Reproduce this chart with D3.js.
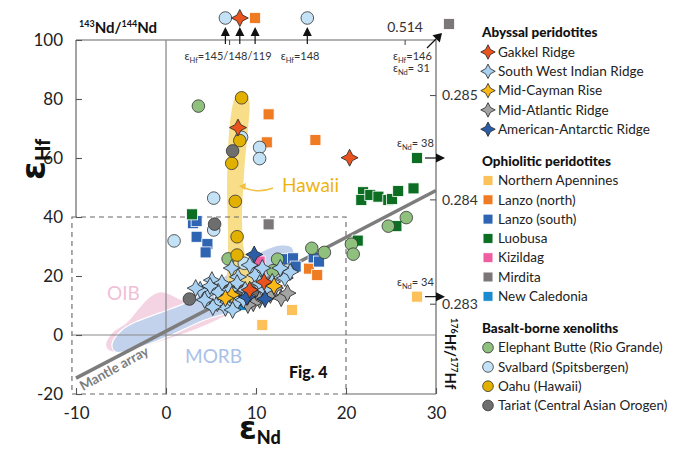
<!DOCTYPE html>
<html><head><meta charset="utf-8">
<script src="https://cdn.jsdelivr.net/npm/d3@7"></script>
<style>body{margin:0;background:#fff;} svg{font-family:Lato,'Open Sans',sans-serif;}</style>
</head><body><svg id="c" width="686" height="449"></svg>
<script>
// ---------- data (εNd, εHf) ----------
const gakkel = [[8.0,70.3],[20.4,60.1],[10.9,18.0],[9.3,15.3]];
const swir = [[7.3,22.7],[8.0,19.7],[9.9,20.3],[5.1,18.6],[6.2,17.6],[7.9,17.6],[10.4,17.6],[13.2,19.3],[13.8,21.4],[4.6,14.2],[5.7,10.8],[6.9,11.2],[7.9,11.2],[6.6,9.2],[5.2,9.5],[3.8,15.3],[8.8,15.3],[11.8,18.0],[9.3,23.7],[11.0,15.3],[5.8,14.6],[7.1,15.3],[4.3,11.9],[9.1,13.2],[10.7,22.7],[12.7,22.7],[8.6,11.9],[7.4,8.5],[4.9,16.6],[3.3,15.9]];
const midCayman = [[12.0,16.6],[7.3,13.6],[6.6,12.5]];
const midAtlantic = [[10.4,11.9],[9.7,10.8],[11.6,13.6],[12.1,15.9],[9.1,10.2],[12.8,12.5],[13.5,14.2]];
const amAntarctic = [[9.8,27.3],[9.0,12.9],[11.0,12.2]];
const northApennines = [[14.0,8.5],[10.7,3.4]];
const lanzoNorth = [[11.4,74.8],[11.2,65.3],[16.6,66.1],[15.9,22.5],[16.8,20.3]];
const lanzoSouth = [[3.0,37.9],[3.4,38.6],[3.4,33.3],[4.6,30.8],[4.4,28.0],[13.0,25.7],[14.1,26.0],[14.4,23.2],[16.4,26.3],[17.0,24.9]];
const luobusa = [[2.9,40.9],[21.3,32.0],[21.9,48.4],[21.7,45.8],[22.7,47.5],[23.6,46.9],[24.7,45.8],[25.1,46.1],[25.8,48.8],[27.5,49.7],[25.6,36.9]];
const kizildag = [[10.4,24.9]];
const mirdita = [[11.4,37.5]];
const newCaledonia = [[6.0,11.2],[8.4,10.2]];
const elephantButte = [[3.6,77.6],[6.9,25.8],[12.4,25.7],[11.9,21.8],[16.2,29.4],[17.6,28.0],[20.6,30.8],[20.8,27.4],[24.7,36.9],[26.7,39.8]];
const svalbard = [[8.4,67.0],[10.4,63.6],[10.4,59.8],[5.3,46.4],[5.3,35.6],[0.9,31.9],[8.7,24.3],[13.5,22.0]];
const oahu = [[8.4,80.4],[8.2,65.9],[7.3,58.2],[7.7,45.3],[7.9,33.3],[7.9,27.1]];
const tariat = [[7.4,62.4],[5.4,37.6],[2.6,12.2],[8.0,15.3],[9.6,14.2],[6.3,15.3]];
// off-scale points
const offTop = [["svalbard",6.6,145],["gakkel",8.2,148],["lanzoNorth",9.9,119],["svalbard",15.7,148]];
const offTopLabels = [["145/148/119",6.9],["148",14.9]];
const offRight = [["luobusa",38,60],["northApennines",34,13]];
const offCorner = [["mirdita",31,146]];
// fields
const morbField = [[-6.0,-3.1],[-4.9,1.7],[-3.4,4.4],[-0.7,7.5],[2.1,10.8],[4.6,15.3],[6.8,20.7],[10.1,27.5],[12.7,30.5],[14.0,29.8],[14.2,26.1],[13.0,19.3],[10.8,12.9],[7.9,8.5],[4.3,5.1],[0.1,-0.7],[-3.4,-4.7],[-5.6,-5.8]];
const oibField = [[-6.7,-3.1],[-6.0,0.7],[-4.3,4.4],[-2.9,9.5],[-1.8,12.9],[-0.7,14.6],[0.4,13.9],[1.8,11.9],[3.8,12.5],[7.1,16.9],[9.3,21.4],[10.4,22.7],[10.7,16.9],[7.1,7.5],[4.3,3.1],[1.6,0.0],[-1.8,-3.4],[-4.6,-6.1],[-6.4,-5.1]];
const hawaiiField = [[8.44,82.6],[9.2,79.7],[9.1,69.5],[8.78,59.3],[8.56,49.2],[8.44,39.0],[8.67,28.8],[9.33,22.0],[9.56,15.3],[8.22,11.9],[6.89,15.3],[6.89,25.4],[6.89,35.6],[6.78,49.2],[6.89,62.7],[7.22,74.6],[7.67,80.3]];
const mantleArray = {slope:1.59, intercept:1.28, from:-10, to:30};
// ticks
const xTicks = [-10,0,10,20,30];
const yTicks = [-20,0,20,40,60,80,100];
const ndRatioTicks = [0.513,0.514];
const ndRatioLabels = ["","0.514"];
const hfRatioTicks = [0.283,0.284,0.285];
const CHUR_Nd = 0.512638, CHUR_Hf = 0.282705;

// ---------- styles ----------
const groups = [
 {key:"gakkel",name:"Gakkel Ridge",shape:"star",color:"#e9531d",data:gakkel},
 {key:"swir",name:"South West Indian Ridge",shape:"star",color:"#a9d1f2",data:swir},
 {key:"midCayman",name:"Mid-Cayman Rise",shape:"star",color:"#fbb917",data:midCayman},
 {key:"midAtlantic",name:"Mid-Atlantic Ridge",shape:"star",color:"#a3a3a3",data:midAtlantic},
 {key:"amAntarctic",name:"American-Antarctic Ridge",shape:"star",color:"#2b5ea7",data:amAntarctic},
 {key:"northApennines",name:"Northern Apennines",shape:"square",color:"#fdc15a",data:northApennines},
 {key:"lanzoNorth",name:"Lanzo (north)",shape:"square",color:"#ef7b23",data:lanzoNorth},
 {key:"lanzoSouth",name:"Lanzo (south)",shape:"square",color:"#2f64b3",data:lanzoSouth},
 {key:"luobusa",name:"Luobusa",shape:"square",color:"#0b6e23",data:luobusa},
 {key:"kizildag",name:"Kizildag",shape:"square",color:"#ee5ea0",data:kizildag},
 {key:"mirdita",name:"Mirdita",shape:"square",color:"#7b7677",data:mirdita},
 {key:"newCaledonia",name:"New Caledonia",shape:"square",color:"#1b8bd0",data:newCaledonia},
 {key:"elephantButte",name:"Elephant Butte (Rio Grande)",shape:"circle",color:"#8fc07d",data:elephantButte},
 {key:"svalbard",name:"Svalbard (Spitsbergen)",shape:"circle",color:"#c4e2f6",data:svalbard},
 {key:"oahu",name:"Oahu (Hawaii)",shape:"circle",color:"#e2b100",data:oahu},
 {key:"tariat",name:"Tariat (Central Asian Orogen)",shape:"circle",color:"#6e6e6e",data:tariat}
];
const byKey = Object.fromEntries(groups.map(g=>[g.key,g]));
const legendSections = [
 {title:"Abyssal peridotites",keys:["gakkel","swir","midCayman","midAtlantic","amAntarctic"]},
 {title:"Ophiolitic peridotites",keys:["northApennines","lanzoNorth","lanzoSouth","luobusa","kizildag","mirdita","newCaledonia"]},
 {title:"Basalt-borne xenoliths",keys:["elephantButte","svalbard","oahu","tariat"]}
];

const svg = d3.select("#c");
const x = d3.scaleLinear().domain([-10,30]).range([76,436]);
const y = d3.scaleLinear().domain([-20,100]).range([394,40]);
const xNd = d3.scaleLinear().domain([CHUR_Nd, CHUR_Nd*1.003]).range([x(0), x(30)]);
const yHf = d3.scaleLinear().domain([CHUR_Hf, CHUR_Hf*1.01]).range([y(0), y(100)]);

function starPath(r){const a=r*0.34;return `M0,${-r}L${a},${-a}L${r},0L${a},${a}L0,${r}L${-a},${a}L${-r},0L${-a},${-a}Z`;}
function drawMarker(sel, g, px, py, scale){
  scale = scale||1;
  if(g.shape==="star"){
    sel.append("path").attr("d",starPath(8.5*scale)).attr("transform",`translate(${px},${py})`)
      .attr("fill",g.color).attr("stroke","#222").attr("stroke-width",0.8).attr("stroke-linejoin","round");
  } else if(g.shape==="square"){
    const s=11*scale;
    sel.append("rect").attr("x",px-s/2).attr("y",py-s/2).attr("width",s).attr("height",s)
      .attr("fill",g.color).attr("stroke","#fff").attr("stroke-width",0.8);
  } else {
    sel.append("circle").attr("cx",px).attr("cy",py).attr("r",6.3*scale)
      .attr("fill",g.color).attr("stroke","#333").attr("stroke-width",0.8);
  }
}

// ---------- fields ----------
const fieldLine = d3.line().x(d=>x(d[0])).y(d=>y(d[1])).curve(d3.curveCatmullRomClosed.alpha(0.5));
svg.append("path").attr("d",fieldLine(oibField)).attr("fill","#f4d3e3").attr("stroke","#fff").attr("stroke-width",1);
svg.append("path").attr("d",fieldLine(morbField)).attr("fill","#c3d2ec").attr("stroke","#fff").attr("stroke-width",1.2);
svg.append("path").attr("d",fieldLine(hawaiiField)).attr("fill","#f7d977").attr("opacity",0.88);

// ---------- frame / axes ----------
const frame = svg.append("g").attr("stroke","#666").attr("fill","none");
frame.append("line").attr("x1",x(-10)).attr("x2",x(-10)).attr("y1",y(100)).attr("y2",y(40)).attr("stroke-width",1.2);
frame.append("line").attr("x1",x(-10)).attr("x2",x(30)).attr("y1",y(100)).attr("y2",y(100)).attr("stroke-width",1.2);
frame.append("line").attr("x1",x(30)).attr("x2",x(30)).attr("y1",y(100)).attr("y2",y(-20)).attr("stroke-width",1.2);
frame.append("line").attr("x1",x(20)).attr("x2",x(30)).attr("y1",y(-20)).attr("y2",y(-20)).attr("stroke-width",1.2);
frame.append("line").attr("x1",x(0)).attr("x2",x(0)).attr("y1",y(100)).attr("y2",y(-20)).attr("stroke","#8a8a8a").attr("stroke-width",1.3);
frame.append("line").attr("x1",x(-10.45)).attr("x2",x(30)).attr("y1",y(0)).attr("y2",y(0)).attr("stroke","#8a8a8a").attr("stroke-width",1.1);
frame.append("rect").attr("x",x(-10.45)).attr("y",y(40)).attr("width",x(20)-x(-10.45)).attr("height",y(-20)-y(40))
  .attr("stroke","#666").attr("stroke-width",1.1).attr("stroke-dasharray","5,4");

const fmt = d=>String(d);
const yAxis = svg.append("g").attr("transform",`translate(${x(-10)},0)`)
  .call(d3.axisLeft(y).tickValues(yTicks).tickSize(-6).tickPadding(13).tickFormat(fmt));
const xAxis = svg.append("g").attr("transform",`translate(0,${y(-20)})`)
  .call(d3.axisBottom(x).tickValues(xTicks).tickSize(-6).tickPadding(13).tickFormat(fmt));
[yAxis,xAxis].forEach(a=>{a.select(".domain").remove();a.selectAll(".tick line").attr("stroke","#555").attr("stroke-width",1.1);
  a.selectAll("text").attr("font-size",17).attr("fill","#222").attr("font-family","Lato,sans-serif");});

// top Nd ratio axis
const topAx = svg.append("g");
ndRatioTicks.forEach((t,i)=>{
  topAx.append("line").attr("x1",xNd(t)).attr("x2",xNd(t)).attr("y1",y(100)).attr("y2",y(100)+5).attr("stroke","#555").attr("stroke-width",1.1);
  if(ndRatioLabels[i]) topAx.append("text").attr("x",xNd(t)).attr("y",32).attr("text-anchor","middle").attr("font-size",14).attr("fill","#333").text(ndRatioLabels[i]);
});
const ndt = svg.append("text").attr("x",79).attr("y",33).attr("font-size",15).attr("font-weight",700).attr("fill","#111");
ndt.append("tspan").attr("font-size",9).attr("dy",-6).text("143");
ndt.append("tspan").attr("dy",6).text("Nd/");
ndt.append("tspan").attr("font-size",9).attr("dy",-6).text("144");
ndt.append("tspan").attr("dy",6).text("Nd");

// right Hf ratio axis
hfRatioTicks.forEach(t=>{
  svg.append("line").attr("x1",x(30)-6).attr("x2",x(30)).attr("y1",yHf(t)).attr("y2",yHf(t)).attr("stroke","#555").attr("stroke-width",1.1);
  svg.append("text").attr("x",x(30)+6).attr("y",yHf(t)).attr("dy","0.35em").attr("font-size",14).attr("fill","#333").text(d3.format(".3f")(t));
});
const hft = svg.append("text").attr("transform","translate(445,318) rotate(90)").attr("font-size",15).attr("font-weight",700).attr("fill","#111");
hft.append("tspan").attr("font-size",9).attr("dy",-6).text("176");
hft.append("tspan").attr("dy",6).text("Hf/");
hft.append("tspan").attr("font-size",9).attr("dy",-6).text("177");
hft.append("tspan").attr("dy",6).text("Hf");

// axis titles
const xt = svg.append("text").attr("x",239).attr("y",439).attr("font-weight",700).attr("fill","#111");
xt.append("tspan").attr("font-size",32).attr("font-family","'DejaVu Sans',sans-serif").text("ε");
xt.append("tspan").attr("font-size",18).attr("font-weight",900).attr("dy",5).text("Nd");
const yt = svg.append("text").attr("transform","translate(45,180) rotate(-90)").attr("font-weight",700).attr("fill","#111");
yt.append("tspan").attr("font-size",34).attr("font-family","'DejaVu Sans',sans-serif").text("ε");
yt.append("tspan").attr("font-size",20).attr("font-weight",900).attr("dy",5).text("Hf");

// mantle array
svg.append("line").attr("x1",x(mantleArray.from)).attr("y1",y(mantleArray.slope*mantleArray.from+mantleArray.intercept))
  .attr("x2",x(mantleArray.to)).attr("y2",y(mantleArray.slope*mantleArray.to+mantleArray.intercept))
  .attr("stroke","#7d7d7d").attr("stroke-width",3.5);
svg.append("text").attr("transform","translate(83,391) rotate(-29)").attr("font-size",13.5).attr("font-weight",700).attr("fill","#7d7d7d").text("Mantle array");

// field labels
svg.append("text").attr("x",107).attr("y",300).attr("font-size",19).attr("fill","#f1c0d6").text("OIB");
svg.append("text").attr("x",185).attr("y",363).attr("font-size",19).attr("fill","#a9c1e8").text("MORB");
svg.append("text").attr("x",282).attr("y",192).attr("font-size",19).attr("fill","#efb311").text("Hawaii");
svg.append("path").attr("d","M273,188 Q258,194 242,187").attr("fill","none").attr("stroke","#f0c040").attr("stroke-width",1.5);
svg.append("path").attr("d","M239,186 L246,183 L245,190 Z").attr("fill","#f0c040");
svg.append("text").attr("x",289).attr("y",378).attr("font-size",16).attr("font-weight",900).attr("fill","#111").text("Fig. 4");

// ---------- points ----------
const pts = svg.append("g");
const order = ["northApennines","lanzoNorth","lanzoSouth","luobusa","kizildag","mirdita","newCaledonia","elephantButte","svalbard","oahu","tariat","midAtlantic","swir","amAntarctic","gakkel","midCayman"];
order.forEach(k=>{const g=byKey[k]; g.data.forEach(d=>drawMarker(pts,g,x(d[0]),y(d[1])));});

// off-scale markers
const ann = svg.append("g");
function arrowHead(px,py,dir){
  let p;
  if(dir==="up") p=`M${px},${py} L${px-4.5},${py+9} L${px+4.5},${py+9} Z`;
  else if(dir==="right") p=`M${px},${py} L${px-9},${py-4.5} L${px-9},${py+4.5} Z`;
  else p=`M${px},${py} L${px-9.5},${py+2.2} L${px-2.2},${py+9.5} Z`;
  ann.append("path").attr("d",p).attr("fill","#111");
}
offTop.forEach(d=>{
  const px=x(d[1]);
  ann.append("line").attr("x1",px).attr("x2",px).attr("y1",y(100)+4).attr("y2",30).attr("stroke","#111").attr("stroke-width",1.2);
  arrowHead(px,27,"up");
  drawMarker(ann,byKey[d[0]],px,18);
});
function epsLabel(sel,px,py,sub,val,anchor){
  const t=sel.append("text").attr("x",px).attr("y",py).attr("font-size",11).attr("fill","#333").attr("text-anchor",anchor||"middle");
  t.append("tspan").text("ε"); t.append("tspan").attr("font-size",7.5).attr("dy",3).text(sub); t.append("tspan").attr("dy",-3).text(val);
}
offTopLabels.forEach(d=>epsLabel(ann,x(d[1]),60,"Hf","="+d[0]));
offRight.forEach(d=>{
  const py=y(d[2]);
  drawMarker(ann,byKey[d[0]],417,py);
  ann.append("line").attr("x1",425).attr("x2",438).attr("y1",py).attr("y2",py).attr("stroke","#111").attr("stroke-width",1.2);
  arrowHead(445,py,"right");
  epsLabel(ann,397,py-11,"Nd","= "+d[1],"start");
});
offCorner.forEach(d=>{
  drawMarker(ann,byKey[d[0]],449,24);
  ann.append("line").attr("x1",427).attr("y1",48).attr("x2",438).attr("y2",37).attr("stroke","#111").attr("stroke-width",1.2);
  arrowHead(442,33,"ne");
  epsLabel(ann,393,60,"Hf","="+d[2],"start");
  epsLabel(ann,393,72,"Nd","= "+d[1],"start");
});

// ---------- legend ----------
const leg = svg.append("g");
let ly = 32;
legendSections.forEach((s,si)=>{
  leg.append("text").attr("x",482).attr("y",ly+5).attr("font-size",13.5).attr("font-weight",900).attr("fill","#111").text(s.title);
  ly += 20;
  s.keys.forEach(k=>{
    const g=byKey[k];
    drawMarker(leg,g,488,ly,g.shape==="star"?0.85:(g.shape==="square"?0.9:0.85));
    leg.append("text").attr("x",498).attr("y",ly).attr("dy","0.35em").attr("font-size",13.5).attr("fill","#222").text(g.name);
    ly += 19.3;
  });
  ly += 12;
});
</script></body></html>
